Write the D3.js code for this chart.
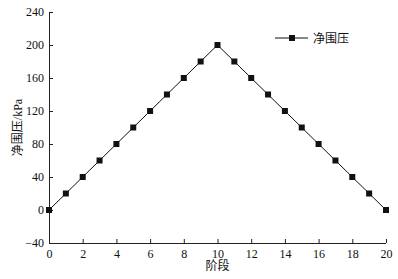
<!doctype html>
<html>
<head>
  <meta charset="utf-8" />
  <script src="https://cdnjs.cloudflare.com/ajax/libs/d3/7.8.5/d3.min.js"></script>
  <style>
  body{
    margin: 0;
    background: #fff;
    font-family: "Liberation Serif","DejaVu Serif","Noto Sans CJK SC",serif;
  }
  .axis path, .axis line{
    stroke: #222;
  }
  .axis text{
    font-family: "Liberation Serif","Noto Sans CJK SC",serif;
    font-size: 12px;
    fill: #111;
  }
  .label{
    font-family: "Liberation Serif","Noto Sans CJK SC",serif;
    font-size: 12px;
    fill: #111;
  }
  </style>
</head>
<body>
  <div id="chart"></div>
  <script>
  var stages = [0, 1, 2, 3, 4, 5, 6, 7, 8, 9, 10, 11, 12, 13, 14, 15, 16, 17, 18, 19, 20];
  var pressure = [0, 20, 40, 60, 80, 100, 120, 140, 160, 180, 200, 180, 160, 140, 120, 100, 80, 60, 40, 20, 0];
  var xTicks = [0, 2, 4, 6, 8, 10, 12, 14, 16, 18, 20];
  var yTicks = [-40, 0, 40, 80, 120, 160, 200, 240];
  var seriesName = '净围压';

  var width = 398, height = 279;
  var margin = {left: 49, right: 12, top: 12, bottom: 36};

  var svg = d3.select('#chart').append('svg')
    .attr('width', width)
    .attr('height', height);

  var x = d3.scaleLinear().domain([0, 20]).range([margin.left, width - margin.right]);
  var y = d3.scaleLinear().domain([-40, 240]).range([height - margin.bottom, margin.top]);

  // axes with ticks pointing inward
  svg.append('g')
    .attr('class', 'axis')
    .attr('transform', 'translate(0,' + y(-40) + ')')
    .call(d3.axisBottom(x).tickValues(xTicks).tickSizeInner(-4).tickSizeOuter(0).tickPadding(6))
    .call(function(g){ g.select('.domain').attr('d', 'M' + x(0) + ',0.5H' + x(20)); });

  svg.append('g')
    .attr('class', 'axis')
    .attr('transform', 'translate(' + x(0) + ',0)')
    .call(d3.axisLeft(y).tickValues(yTicks).tickSizeInner(-4).tickSizeOuter(0).tickPadding(5)
      .tickFormat(function(d){ return d < 0 ? '\u2212' + Math.abs(d) : d; }))
    .call(function(g){ g.select('.domain').attr('d', 'M0.5,' + y(240) + 'V' + y(-40)); });

  var data = stages.map(function(s, i){ return {x: s, y: pressure[i]}; });

  svg.append('path')
    .datum(data)
    .attr('fill', 'none')
    .attr('stroke', '#111')
    .attr('stroke-width', 1)
    .attr('d', d3.line().x(function(d){ return x(d.x); }).y(function(d){ return y(d.y); }));

  svg.selectAll('.pt')
    .data(data)
    .enter().append('rect')
    .attr('class', 'pt')
    .attr('x', function(d){ return x(d.x) - 3; })
    .attr('y', function(d){ return y(d.y) - 3; })
    .attr('width', 6)
    .attr('height', 6)
    .attr('fill', '#111');

  // axis titles
  svg.append('text')
    .attr('class', 'label')
    .attr('x', x(10))
    .attr('y', 270)
    .attr('text-anchor', 'middle')
    .text('阶段');

  svg.append('text')
    .attr('class', 'label')
    .attr('transform', 'translate(22,' + y(100) + ') rotate(-90)')
    .attr('text-anchor', 'middle')
    .text('净围压/kPa');

  // legend
  var lg = svg.append('g').attr('transform', 'translate(275,38)');
  lg.append('line').attr('x1', 0).attr('x2', 33).attr('y1', 0).attr('y2', 0)
    .attr('stroke', '#111');
  lg.append('rect').attr('x', 14).attr('y', -3).attr('width', 6).attr('height', 6).attr('fill', '#111');
  lg.append('text').attr('class', 'label').attr('x', 38).attr('y', 4.5).text(seriesName);
  </script>
</body>
</html>
